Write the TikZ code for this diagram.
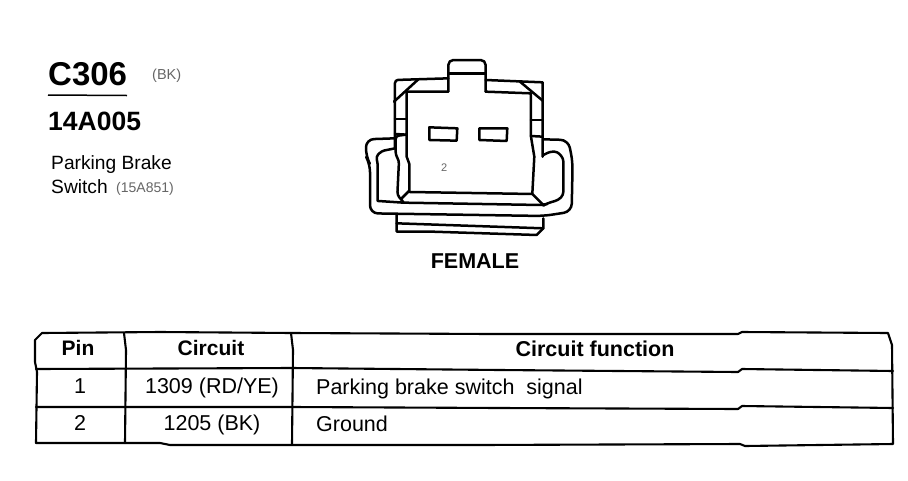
\documentclass[tikz,border=0pt]{standalone}
\usepackage{fontspec}
\setmainfont{Liberation Sans}
\tikzset{
  txt/.style={inner sep=0pt,anchor=base west,text=black},
  ctr/.style={inner sep=0pt,anchor=base,text=black},
  conn/.style={line width=2.5pt,line join=round,line cap=round,black},
  tab/.style={line width=2.1pt,line join=round,line cap=round,black},
  faint/.style={inner sep=0pt,anchor=base west,text=black!60}
}
\newcommand{\fs}[1]{\fontsize{#1}{#1}\selectfont}
\begin{document}
\begin{tikzpicture}[x=1pt,y=-1pt]
\useasboundingbox (0,0) rectangle (908,480);
\fill[white] (0,0) rectangle (908,480);
% heading
\node[txt] (code) at (48,85) {\fs{33}\bfseries C306};
\node[faint] (colour) at (152,79) {\fs{14.5}(BK)};
\draw[line width=1.5pt] (48,95) -- (127,95.5);
\node[txt] (part) at (48,130) {\fs{26.5}\bfseries 14A005};
\node[txt] (l1) at (51,169) {\fs{19.2}Parking Brake};
\node[txt] (l2) at (51,193) {\fs{19.2}Switch};
\node[faint] (num) at (116,192) {\fs{14}(15A851)};
\node[ctr] (fem) at (475,268) {\fs{21.5}\bfseries FEMALE};
% connector: coordinates in 3x crop units, origin (350,40)
\begin{scope}[shift={(350,40)},x=0.3333pt,y=-0.3333pt,conn]
  % top tab
  \draw[rounded corners=5pt] (295,155) -- (295,60) -- (407,60) -- (407,155);
  \draw (295,100) -- (407,100);
  % inner body
  \draw (295,155) -- (170,155) -- (170,350) -- (178,372) -- (178,452) -- (152,478);
  \draw (407,155) -- (543,160) -- (543,290) -- (553,350) -- (547,462) -- (580,495);
  \draw (178,456) -- (547,462);
  % outer shell
  \draw[rounded corners=3pt] (295,115) -- (135,120) -- (135,325);
  \draw (407,120) -- (578,127) -- (578,350);
  \draw (132,185) -- (205,118);
  \draw (510,125) -- (578,182);
  \draw (135,237) -- (168,237);
  \draw (135,282) -- (170,284);
  \draw (543,240) -- (578,240);
  \draw (543,288) -- (578,290);
  % left strip
  \draw[rounded corners=3pt] (168,284) -- (137,288) -- (137,345) -- (147,362) -- (142,465) -- (160,486);
  % bottom inner
  \draw (85,483) -- (160,488) -- (570,495) -- (592,492);
  % outer latch
  \draw[rounded corners=8pt] (135,295) -- (48,298) -- (48,350) -- (60,372) -- (60,520) -- (580,528) -- (665,515) -- (668,365) -- (655,300) -- (580,298);
  % inner latch
  \draw[rounded corners=3pt] (135,325) -- (95,333) -- (78,350) -- (83,368) -- (83,483);
  \draw[rounded corners=3pt] (580,345) -- (600,335) -- (622,335) -- (640,355) -- (640,465) -- (625,480) -- (592,490) -- (580,497);
  % bottom bars
  \draw (140,525) -- (140,575) -- (245,575) -- (560,585) -- (580,565) -- (580,535);
  \draw (140,550) -- (580,565);
  % terminals
  \draw (238,262) -- (322,265) -- (320,302) -- (238,300) -- cycle;
  \draw (388,265) -- (472,265) -- (470,303) -- (388,300) -- cycle;
\end{scope}
\node[faint] (pinmark) at (441,171) {\fs{11}2};
% table
\draw[tab] (35,340) -- (42,333) -- (160,332) -- (292,333) -- (490,334) -- (738,334) -- (742,332) -- (888,333) -- (892,345) -- (893,444) -- (745,446) -- (740,444) -- (480,445) -- (170,445) -- (160,443) -- (36,443) -- (37,372) -- (35,362) -- cycle;
\draw[tab] (36,369) -- (292,368) -- (500,370) -- (738,372) -- (742,369) -- (893,371);
\draw[tab] (36,407) -- (292,407) -- (500,408) -- (738,409) -- (742,406) -- (893,408);
\draw[tab] (124,333) -- (126,350) -- (125,443);
\draw[tab] (291,333) -- (293,350) -- (292,444);
\node[ctr] (h1) at (78,355) {\fs{21}\bfseries Pin};
\node[ctr] (h2) at (211,355) {\fs{21}\bfseries Circuit};
\node[ctr] (h3) at (595,356) {\fs{21.5}\bfseries Circuit function};
\node[ctr] (r11) at (80,393) {\fs{21.5}1};
\node[ctr] (r12) at (212,393) {\fs{21.5}1309 (RD/YE)};
\node[txt] (r13) at (316,394) {\fs{21.5}Parking brake switch\ \ signal};
\node[ctr] (r21) at (80,430) {\fs{21.5}2};
\node[ctr] (r22) at (212,430) {\fs{21.5}1205 (BK)};
\node[txt] (r23) at (316,431) {\fs{21.5}Ground};
\end{tikzpicture}
\end{document}
